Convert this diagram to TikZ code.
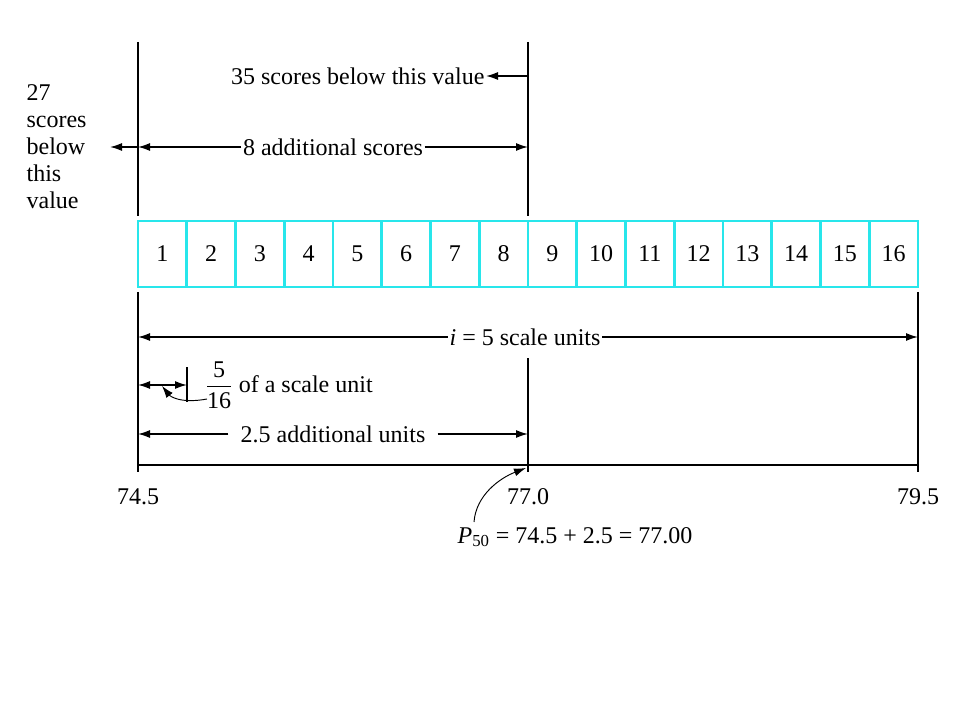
\documentclass[tikz,border=0pt]{standalone}
\usepackage{amsmath}
\usepackage{fontspec}
\setmainfont{Liberation Serif}
\usetikzlibrary{arrows.meta,positioning}
\definecolor{cellcyan}{RGB}{40,230,235}

\begin{document}
\begin{tikzpicture}
    [x=0.75pt, y=-0.75pt, every node/.style={font=\fontsize{18}{20}\selectfont, inner sep=1pt}]
    \tikzset{edge/.style = {line width=1.1pt, -{Latex[length=9pt,width=6pt]}},
             dim/.style = {line width=1.1pt, {Latex[length=9pt,width=6pt]}-{Latex[length=9pt,width=6pt]}},
             rule/.style = {line width=1.1pt},
             cell/.style = {draw=cellcyan, line width=2pt, minimum width=48.75*0.75pt, minimum height=66*0.75pt, inner sep=0pt}}
    \useasboundingbox (0,0) rectangle (960,720);

    % vertical guides
    \coordinate (t1) at (138,42);   \coordinate (u1) at (138,216);
    \coordinate (t2) at (528,42);   \coordinate (u2) at (528,216);
    \draw[rule] (t1) -- (u1);
    \draw[rule] (t2) -- (u2);

    % cells
    \foreach \k in {1,...,16}
        \node[cell] (c\k) at ({138+(\k-0.5)*48.75},254) {\k};

    % bottom guides
    \coordinate (a1) at (138,292);  \coordinate (b1) at (138,472);
    \coordinate (a2) at (528,358);  \coordinate (b2) at (528,472);
    \coordinate (a3) at (918,292);  \coordinate (b3) at (918,472);
    \draw[rule] (a1) -- (b1);
    \draw[rule] (a2) -- (b2);
    \draw[rule] (a3) -- (b3);
    \draw[rule] (138,465) -- (918,465);

    % top labels
    \node[anchor=east] (s35) at (486,76) {35 scores below this value};
    \draw[edge] (528,76) -- (s35.east);
    \node[align=left, anchor=west, font=\fontsize{18}{20.25}\selectfont] (s27) at (25,147) {27\\scores\\below\\this\\value};
    \draw[edge] (138,147) -- (110,147);
    \node (add8) at (333,147) {8 additional scores};
    \draw[edge] (add8.east) -- (528,147);
    \draw[edge] (add8.west) -- (138,147);

    % scale units
    \node (iu) at (525,337) {\textit{i} = 5 scale units};
    \draw[edge] (iu.west) -- (138,337);
    \draw[edge] (iu.east) -- (918,337);

    % fraction
    \coordinate (f1) at (187,367);  \coordinate (f2) at (187,402);
    \draw[rule] (f1) -- (f2);
    \draw[dim] (138,385) -- (187,385);
    \node[anchor=west] (frac) at (204,385) {$\dfrac{\text{5}}{\text{16}}$ of a scale unit};
    \draw[edge, line width=0.7pt] (207,399) .. controls (180,404) and (170,396) .. (162,386);

    \node (add25) at (333,434) {2.5 additional units};
    \draw[edge] ([xshift=-8pt]add25.west) -- (138,434);
    \draw[edge] ([xshift=8pt]add25.east) -- (528,434);

    % axis labels
    \node (v1) at (138,497) {74.5};
    \node (v2) at (528,497) {77.0};
    \node (v3) at (918,497) {79.5};
    \node (p50) at (575,537) {\textit{P}\textsubscript{50} = 74.5 + 2.5 = 77.00};
    \draw[edge, line width=0.7pt] (474,522) .. controls (476,495) and (500,478) .. (526,468);
\end{tikzpicture}
\end{document}
